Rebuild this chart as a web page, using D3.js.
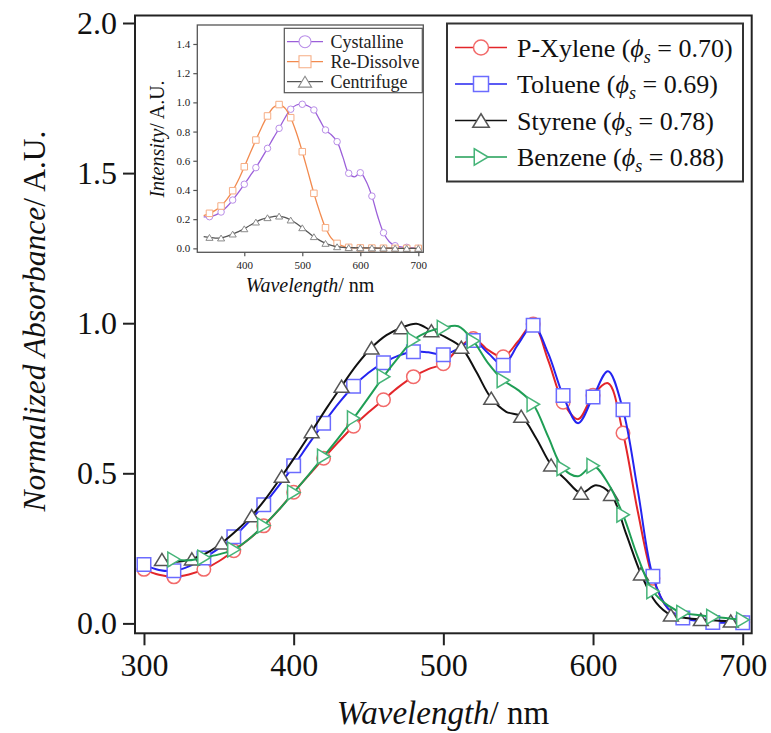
<!DOCTYPE html>
<html lang="en">
<head>
<meta charset="UTF-8">
<title>Normalized Absorbance</title>
<script src="https://d3js.org/d3.v7.min.js"></script>
<style>
  body { margin: 0; background: #fff; }
  svg { display: block; font-family: "Liberation Serif", "Times New Roman", serif; }
</style>
</head>
<body>
<svg id="chart" width="771" height="733"></svg>
<script>
// ---- main plot data (wavelength in nm, normalized absorbance) ----
const wlFull = [300, 310, 320, 330, 340, 350, 360, 370, 380, 390, 400, 410, 420, 430, 440, 450, 460, 470, 480, 490,
    500, 510, 520, 530, 540, 550, 560, 570, 580, 590, 600, 610, 620, 630, 640, 650, 660, 670, 680, 690, 700];
const xyleneAbs = [0.18, 0.162, 0.155, 0.163, 0.18, 0.207, 0.242, 0.28, 0.325, 0.378, 0.437, 0.493, 0.55, 0.605, 0.657, 0.703, 0.745, 0.787, 0.822, 0.847,
    0.865, 0.915, 0.949, 0.91, 0.888, 0.94, 0.997, 0.877, 0.737, 0.68, 0.76, 0.80, 0.634, 0.37, 0.15, 0.05, 0.02, 0.012, 0.008, 0.005, 0.003];
const tolueneAbs = [0.196, 0.178, 0.175, 0.19, 0.218, 0.25, 0.289, 0.338, 0.395, 0.458, 0.525, 0.597, 0.667, 0.733, 0.79, 0.835, 0.868, 0.892, 0.905, 0.903,
    0.895, 0.915, 0.942, 0.9, 0.86, 0.93, 0.993, 0.9, 0.759, 0.667, 0.754, 0.84, 0.712, 0.44, 0.157, 0.05, 0.018, 0.008, 0.003, 0.002, 0.002];
const wlStyrene = [312, 322, 332, 342, 352, 362, 372, 382, 392, 402, 412, 422, 432, 442, 452, 462, 472, 482, 492, 502,
    512, 522, 532, 542, 552, 562, 572, 582, 592, 602, 612, 622, 632, 642, 652, 662, 672, 682, 692];
const styreneAbs = [0.213, 0.205, 0.215, 0.235, 0.268, 0.31, 0.359, 0.42, 0.49, 0.563, 0.639, 0.717, 0.79, 0.86, 0.918, 0.96, 0.985, 0.998, 0.975, 0.952,
    0.92, 0.838, 0.75, 0.705, 0.69, 0.617, 0.528, 0.478, 0.434, 0.46, 0.43, 0.30, 0.165, 0.07, 0.028, 0.018, 0.013, 0.01, 0.008];
const wlBenzene = [320, 330, 340, 350, 360, 370, 380, 390, 400, 410, 420, 430, 440, 450, 460, 470, 480, 490, 500, 510,
    520, 530, 540, 550, 560, 570, 580, 590, 600, 610, 620, 630, 640, 650, 660, 670, 680, 690, 700];
const benzeneAbs = [0.213, 0.21, 0.219, 0.23, 0.246, 0.28, 0.326, 0.378, 0.436, 0.495, 0.556, 0.618, 0.683, 0.752, 0.822, 0.886, 0.944, 0.972, 0.985, 0.99,
    0.941, 0.866, 0.81, 0.777, 0.73, 0.622, 0.517, 0.49, 0.525, 0.467, 0.362, 0.22, 0.107, 0.06, 0.035, 0.028, 0.022, 0.017, 0.012];

const mainNames = ["P-Xylene", "Toluene", "Styrene", "Benzene"];
const mainPhi = ["0.70", "0.69", "0.78", "0.88"];
const mainXTicks = [300, 400, 500, 600, 700];
const mainYTicks = [0.0, 0.5, 1.0, 1.5, 2.0];

// ---- inset data (emission intensity) ----
const wlInset = [330, 340, 350, 360, 370, 380, 390, 400, 410, 420, 430, 440, 450, 460, 470, 480, 490, 500, 510, 520,
    530, 540, 550, 560, 570, 580, 590, 600, 610, 620, 630, 640, 650, 660, 670, 680, 690, 700];
const crystallineInt = [0.215, 0.217, 0.228, 0.249, 0.285, 0.331, 0.383, 0.439, 0.496, 0.553, 0.618, 0.685, 0.755, 0.822, 0.893, 0.953, 0.982, 0.987, 0.975, 0.948,
    0.88, 0.811, 0.778, 0.731, 0.625, 0.514, 0.49, 0.518, 0.46, 0.358, 0.22, 0.107, 0.045, 0.018, 0.01, 0.007, 0.003, 0.0];
const redissolveInt = [0.225, 0.24, 0.26, 0.29, 0.335, 0.395, 0.47, 0.559, 0.652, 0.742, 0.83, 0.907, 0.965, 0.985, 0.962, 0.895, 0.79, 0.662, 0.52, 0.377,
    0.25, 0.141, 0.07, 0.034, 0.015, 0.007, 0.004, 0.003, 0.002, 0.002, 0.001, 0.001, 0.001, 0.0, 0.0, 0.0, 0.0, 0.0];
const centrifugeInt = [0.08, 0.075, 0.07, 0.071, 0.082, 0.098, 0.115, 0.134, 0.158, 0.18, 0.198, 0.21, 0.218, 0.221, 0.212, 0.194, 0.17, 0.141, 0.11, 0.08,
    0.055, 0.034, 0.02, 0.011, 0.007, 0.005, 0.004, 0.004, 0.003, 0.003, 0.002, 0.002, 0.001, 0.001, 0.0, 0.0, 0.0, 0.0];
const insetNames = ["Cystalline", "Re-Dissolve", "Centrifuge"];
const insetXTicks = [400, 500, 600, 700];
const insetYTicks = [0.0, 0.2, 0.4, 0.6, 0.8, 1.0, 1.2, 1.4];

const svg = d3.select("#chart");

// marker shapes, centred on their box
function markerPath(shape, s) {
    const h = s / 2;
    if (shape === "circle") return d3.symbol(d3.symbolCircle, Math.PI * h * h)();
    if (shape === "square") return `M${-h},${-h}H${h}V${h}H${-h}Z`;
    if (shape === "up") return `M0,${-h * 0.9}L${h * 1.1},${h * 0.9}L${-h * 1.1},${h * 0.9}Z`;
    return `M${-h * 0.9},${-h * 1.1}L${h * 0.95},0L${-h * 0.9},${h * 1.1}Z`; // right-pointing
}

function drawSeries(g, xs, ys, wl, vals, st, size, skipStart) {
    const pts = wl.map((w, i) => [w, vals[i]]);
    const line = d3.line().x(d => xs(d[0])).y(d => ys(d[1])).curve(d3.curveCatmullRom.alpha(0.5));
    g.append("path").attr("d", line(pts)).attr("fill", "none")
        .attr("stroke", st.line).attr("stroke-width", st.width);
    g.selectAll(null).data(pts.filter((d, i) => i % 2 === skipStart)).enter().append("path")
        .attr("transform", d => `translate(${xs(d[0])},${ys(d[1])})`)
        .attr("d", markerPath(st.shape, size))
        .attr("fill", "#fff").attr("stroke", st.mark).attr("stroke-width", st.mw);
}

// ---------------- main plot ----------------
const x = d3.scaleLinear().domain([294, 706]).range([135, 751.7]);
const y = d3.scaleLinear().domain([-0.033, 2.025]).range([633.3, 15.5]);

const mainStyles = [
    {line: "#e3262a", mark: "#f26a6a", shape: "circle", width: 2, mw: 1.5},
    {line: "#2424f0", mark: "#6b6bff", shape: "square", width: 2, mw: 1.5},
    {line: "#111", mark: "#555", shape: "up", width: 2, mw: 1.5},
    {line: "#1f9e55", mark: "#45b478", shape: "right", width: 2, mw: 1.5}
];
const mainWl = [wlFull, wlFull, wlStyrene, wlBenzene];
const mainVals = [xyleneAbs, tolueneAbs, styreneAbs, benzeneAbs];

const plot = svg.append("g");
mainVals.forEach((v, i) => drawSeries(plot, x, y, mainWl[i], v, mainStyles[i], 13.5, 0));

svg.append("rect").attr("x", 135).attr("y", 15.5).attr("width", 751.7 - 135).attr("height", 633.3 - 15.5)
    .attr("fill", "none").attr("stroke", "#222").attr("stroke-width", 2);

const xAxis = svg.append("g").attr("transform", "translate(0,633.3)")
    .call(d3.axisBottom(x).tickValues(mainXTicks).tickSize(12).tickPadding(8).tickFormat(d3.format("d")));
const yAxis = svg.append("g").attr("transform", "translate(135,0)")
    .call(d3.axisLeft(y).tickValues(mainYTicks).tickSize(12).tickPadding(6).tickFormat(d3.format(".1f")));
[xAxis, yAxis].forEach(a => {
    a.select(".domain").remove();
    a.selectAll(".tick line").attr("stroke", "#222").attr("stroke-width", 2);
    a.selectAll(".tick text").attr("font-family", "Liberation Serif, serif").attr("font-size", 32).attr("fill", "#111");
});

const xt = svg.append("text").attr("x", 443).attr("y", 724).attr("text-anchor", "middle")
    .attr("font-size", 33).attr("fill", "#111");
xt.append("tspan").attr("font-style", "italic").text("Wavelength");
xt.append("tspan").text("/ nm");

const yt = svg.append("text").attr("transform", "translate(45,321) rotate(-90)").attr("text-anchor", "middle")
    .attr("font-size", 31.5).attr("fill", "#111");
yt.append("tspan").attr("font-style", "italic").text("Normalized Absorbance");
yt.append("tspan").text("/ A.U.");

// main legend
const leg = svg.append("g");
leg.append("rect").attr("x", 447).attr("y", 23.5).attr("width", 296).attr("height", 158)
    .attr("fill", "#fff").attr("stroke", "#333").attr("stroke-width", 2);
mainNames.forEach((name, i) => {
    const cy = 47.5 + i * 36.5, st = mainStyles[i];
    leg.append("line").attr("x1", 455).attr("x2", 507).attr("y1", cy).attr("y2", cy)
        .attr("stroke", st.line).attr("stroke-width", 1.5);
    leg.append("path").attr("transform", `translate(481,${cy})`).attr("d", markerPath(st.shape, 15))
        .attr("fill", "#fff").attr("stroke", st.mark).attr("stroke-width", 1.5);
    const t = leg.append("text").attr("x", 517).attr("y", cy + 9).attr("font-size", 26).attr("fill", "#111");
    t.append("tspan").text(name + " (");
    t.append("tspan").attr("font-style", "italic").text("\u03D5");
    t.append("tspan").attr("font-style", "italic").attr("font-size", 18).attr("dy", 6).text("s");
    t.append("tspan").attr("dy", -6).text(" = " + mainPhi[i] + ")");
});

// ---------------- inset ----------------
const ix = d3.scaleLinear().domain([319, 708.6]).range([197.3, 423.3]);
const iy = d3.scaleLinear().domain([-0.027, 1.53]).range([252.3, 25]);
const insetStyles = [
    {line: "#9b5fd9", mark: "#b98ee8", shape: "circle", width: 1.3, mw: 1},
    {line: "#f28a4e", mark: "#f6ad84", shape: "square", width: 1.3, mw: 1},
    {line: "#555", mark: "#8a8a8a", shape: "up", width: 1.3, mw: 1}
];
const insetVals = [crystallineInt, redissolveInt, centrifugeInt];

const inset = svg.append("g");
inset.append("rect").attr("x", 197.3).attr("y", 25).attr("width", 423.3 - 197.3).attr("height", 252.3 - 25)
    .attr("fill", "#fff");
insetVals.forEach((v, i) => drawSeries(inset, ix, iy, wlInset, v, insetStyles[i], 6.5, 1));
inset.append("rect").attr("x", 197.3).attr("y", 25).attr("width", 423.3 - 197.3).attr("height", 252.3 - 25)
    .attr("fill", "none").attr("stroke", "#555").attr("stroke-width", 1.3);

const ixAxis = inset.append("g").attr("transform", "translate(0,252.3)")
    .call(d3.axisBottom(ix).tickValues(insetXTicks).tickSize(4).tickPadding(5).tickFormat(d3.format("d")));
const iyAxis = inset.append("g").attr("transform", "translate(197.3,0)")
    .call(d3.axisLeft(iy).tickValues(insetYTicks).tickSize(4).tickPadding(3).tickFormat(d3.format(".1f")));
[ixAxis, iyAxis].forEach(a => {
    a.select(".domain").remove();
    a.selectAll(".tick line").attr("stroke", "#555").attr("stroke-width", 1.2);
    a.selectAll(".tick text").attr("font-family", "Liberation Serif, serif").attr("font-size", 11).attr("fill", "#222");
});

const ixt = inset.append("text").attr("x", 310).attr("y", 292).attr("text-anchor", "middle")
    .attr("font-size", 20).attr("fill", "#111");
ixt.append("tspan").attr("font-style", "italic").text("Wavelength");
ixt.append("tspan").text("/ nm");
const iyt = inset.append("text").attr("transform", "translate(164,139) rotate(-90)").attr("text-anchor", "middle")
    .attr("font-size", 20).attr("fill", "#111");
iyt.append("tspan").attr("font-style", "italic").text("Intensity");
iyt.append("tspan").text("/ A.U.");

inset.append("rect").attr("x", 284.3).attr("y", 28.3).attr("width", 138).attr("height", 64.4)
    .attr("fill", "#fff").attr("stroke", "#555").attr("stroke-width", 1.2);
insetNames.forEach((name, i) => {
    const cy = 41.7 + i * 20, st = insetStyles[i];
    inset.append("line").attr("x1", 287).attr("x2", 323).attr("y1", cy).attr("y2", cy)
        .attr("stroke", st.line).attr("stroke-width", 1.3);
    inset.append("path").attr("transform", `translate(305,${cy})`).attr("d", markerPath(st.shape, 12))
        .attr("fill", "#fff").attr("stroke", st.mark).attr("stroke-width", 1.1);
    inset.append("text").attr("x", 330.5).attr("y", cy + 6).attr("font-size", 18).attr("fill", "#222").text(name);
});
</script>
</body>
</html>
